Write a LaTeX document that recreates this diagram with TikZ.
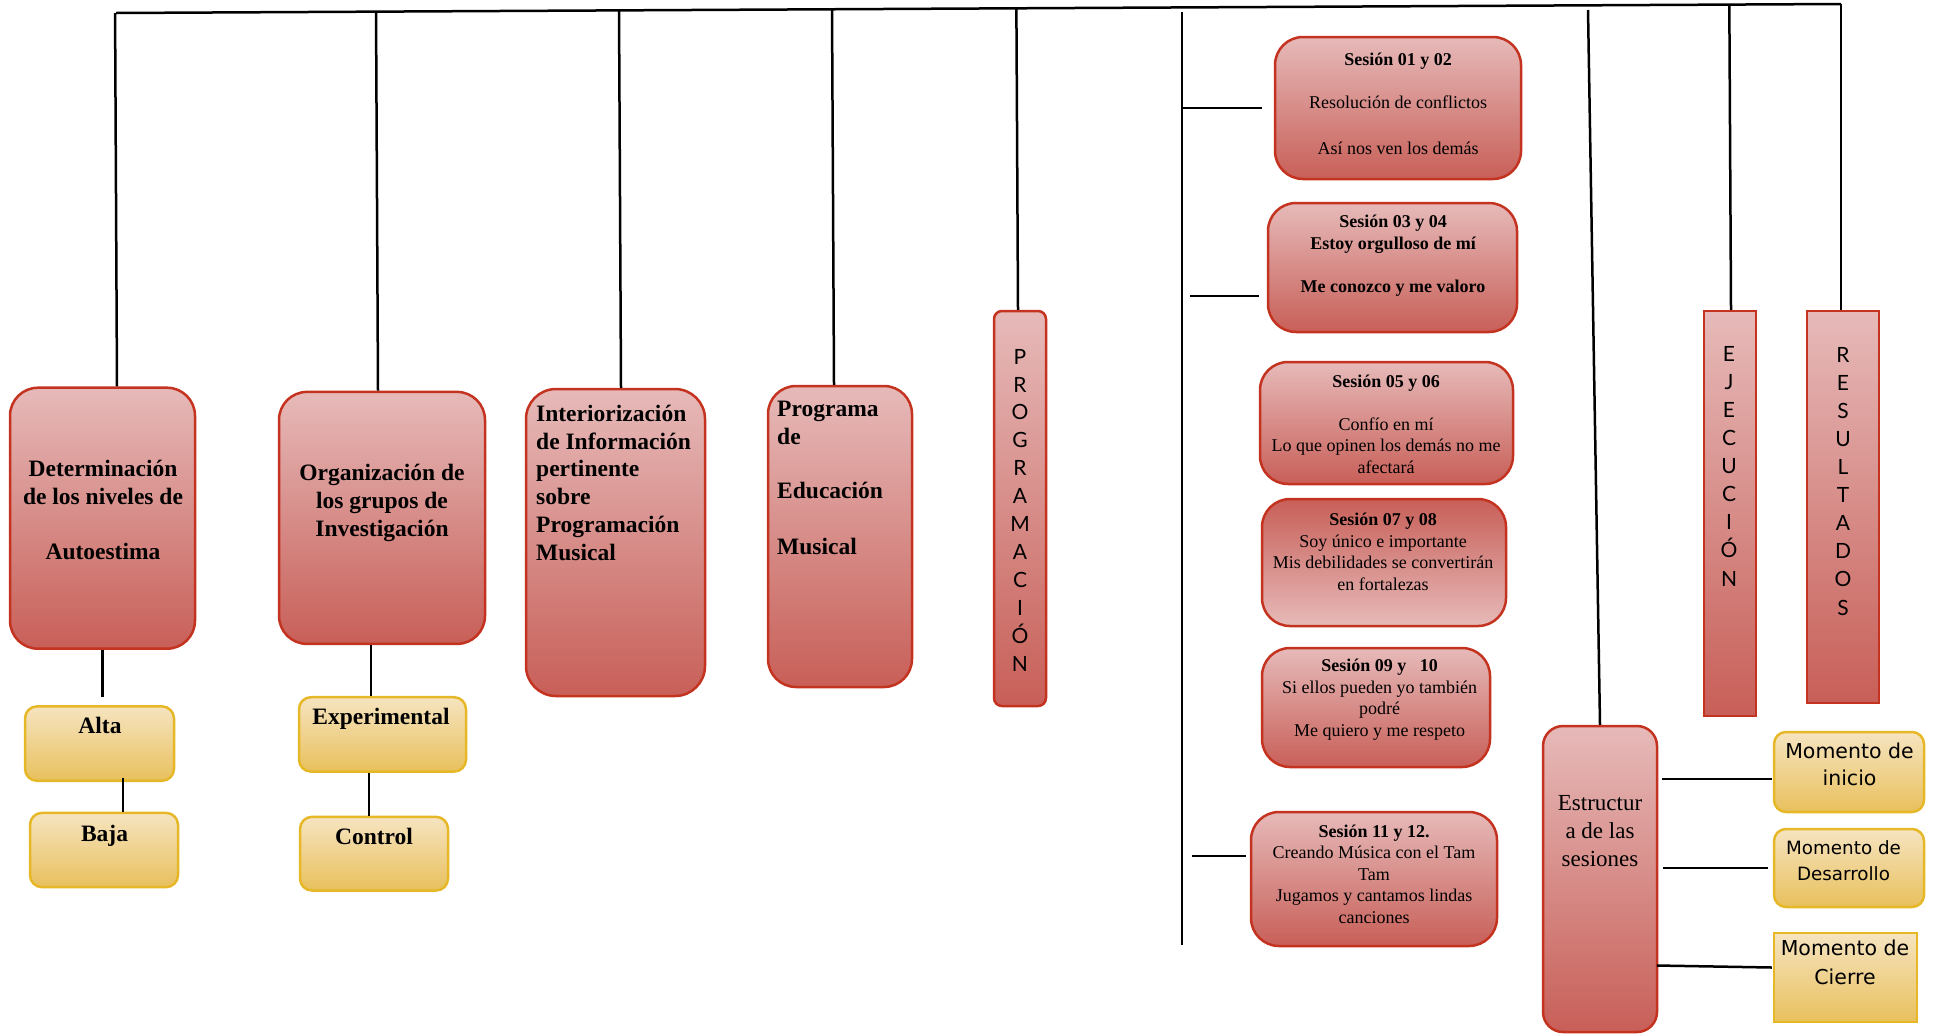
\documentclass[tikz,border=0pt]{standalone}
\usepackage{fontspec}
\setmainfont{Liberation Serif}
\newfontfamily\letterfont{Lato}
\newfontfamily\momfont{DejaVu Sans}
\usetikzlibrary{calc}
\definecolor{redtop}{RGB}{230,186,185}
\definecolor{redbot}{RGB}{200,95,88}
\definecolor{redline}{RGB}{196,50,32}
\definecolor{yeltop}{RGB}{246,228,192}
\definecolor{yelbot}{RGB}{232,192,92}
\definecolor{yelline}{RGB}{230,184,40}

\begin{document}
\begin{tikzpicture}[x=1pt,y=-1pt,
    redbox/.style={draw=redline,line width=2.5pt,rounded corners=28pt,top color=redtop,bottom color=redbot},
    yelbox/.style={draw=yelline,line width=2.5pt,rounded corners=12pt,top color=yeltop,bottom color=yelbot},
    conn/.style={line width=2.5pt,black},
    bigtxt/.style={font=\fontsize{23.5pt}{27.7pt}\selectfont\bfseries,align=center,anchor=base,inner sep=0pt},
    sestxt/.style={font=\fontsize{18pt}{21.5pt}\selectfont,align=center,anchor=base,inner sep=0pt},
    lettxt/.style={font=\letterfont\fontsize{21pt}{27.9pt}\selectfont,align=center,anchor=base,inner sep=0pt},
    momtxt/.style={font=\momfont\fontsize{20.5pt}{27pt}\selectfont,align=center,anchor=base,inner sep=0pt}]
  \useasboundingbox (0,0) rectangle (1937,1034);

  % left branch (text nodes sit on the baseline of their last line)
  \node[redbox,minimum width=185pt,minimum height=261pt] (det) at (102.5,518.2) {};
  \node[bigtxt] (detT) at (103,559.5) {Determinación\\de los niveles de\\[27.7pt]Autoestima};
  \node[redbox,minimum width=206pt,minimum height=252pt] (org) at (382,517.9) {};
  \node[bigtxt] (orgT) at (382,536) {Organización de\\los grupos de\\Investigación};
  \node[redbox,rounded corners=30pt,minimum width=179pt,minimum height=307pt] (inter) at (615.5,542.5) {};
  \node[bigtxt,align=left,anchor=base west] (interT) at (536,560) {Interiorización\\de Información\\pertinente\\sobre\\Programación\\Musical};
  \node[redbox,minimum width=144pt,minimum height=301pt] (prog) at (840,536.5) {};
  \node[bigtxt,align=left,anchor=base west] (progT) at (777,554) {Programa\\de\\[26pt]Educación\\[28pt]Musical};
  \node[redbox,rounded corners=8pt,minimum width=52pt,minimum height=395pt] (progr) at (1020,508.5) {};
  \node[lettxt] (progrT) at (1020,671) {P\\R\\O\\G\\R\\A\\M\\A\\C\\I\\Ó\\N};

  \node[yelbox,minimum width=149pt,minimum height=74.4pt] (alta) at (99.5,743.6) {};
  \node[bigtxt] (altaT) at (100,733.6) {Alta};
  \node[yelbox,minimum width=148pt,minimum height=74.3pt] (baja) at (104,850) {};
  \node[bigtxt] (bajaT) at (104.5,841) {Baja};
  \node[yelbox,minimum width=167pt,minimum height=74.4pt] (exp) at (382.5,734.4) {};
  \node[bigtxt] (expT) at (381,724.5) {Experimental};
  \node[yelbox,minimum width=148pt,minimum height=73.7pt] (ctrl) at (374,853.7) {};
  \node[bigtxt] (ctrlT) at (374,844.5) {Control};

  % sessions
  \node[redbox,minimum width=246pt,minimum height=142pt] (s01) at (1398,108) {};
  \node[sestxt] (s01T) at (1398,154) {\textbf{Sesión 01 y 02}\\[21.5pt]Resolución de conflictos\\[24pt]Así nos ven los demás};
  \node[redbox,minimum width=249pt,minimum height=129pt] (s03) at (1392.5,267.5) {};
  \node[sestxt,font=\fontsize{18pt}{21.5pt}\selectfont\bfseries] (s03T) at (1393,292) {Sesión 03 y 04\\Estoy orgulloso de mí\\[21.5pt]Me conozco y me valoro};
  \node[redbox,minimum width=253pt,minimum height=122pt] (s05) at (1386.5,423) {};
  \node[sestxt] (s05T) at (1386,473) {\textbf{Sesión 05 y 06}\\[21pt]Confío en mí\\Lo que opinen los demás no me\\afectará};
  \node[redbox,top color=redbot,bottom color=redtop,minimum width=244pt,minimum height=127pt] (s07) at (1384,562.5) {};
  \node[sestxt] (s07T) at (1383,590) {\textbf{Sesión 07 y 08}\\Soy único e importante\\Mis debilidades se convertirán\\en fortalezas};
  \node[redbox,minimum width=228pt,minimum height=119pt] (s09) at (1376,707.5) {};
  \node[sestxt] (s09T) at (1379.5,736) {\textbf{Sesión 09 y \ \ 10}\\Si ellos pueden yo también\\podré\\Me quiero y me respeto};
  \node[redbox,minimum width=246pt,minimum height=134pt] (s11) at (1374,879) {};
  \node[sestxt] (s11T) at (1374,923) {\textbf{Sesión 11 y 12.}\\Creando Música con el Tam\\Tam\\Jugamos y cantamos lindas\\canciones};

  % right branch
  \node[redbox,rounded corners=20pt,minimum width=114pt,minimum height=306pt] (estr) at (1600,879) {};
  \node[sestxt,font=\fontsize{23pt}{28pt}\selectfont] (estrT) at (1600,866) {Estructur\\a de las\\sesiones};
  \node[redbox,sharp corners,minimum width=52pt,minimum height=405pt] (ejec) at (1730,513.5) {};
  \node[lettxt,font=\letterfont\fontsize{21pt}{28.1pt}\selectfont] (ejecT) at (1729,586) {E\\J\\E\\C\\U\\C\\I\\Ó\\N};
  \node[redbox,sharp corners,minimum width=72pt,minimum height=392pt] (res) at (1843,507) {};
  \node[lettxt,font=\letterfont\fontsize{21pt}{28.1pt}\selectfont] (resT) at (1843,615) {R\\E\\S\\U\\L\\T\\A\\D\\O\\S};
  \node[yelbox,minimum width=150pt,minimum height=80pt] (momI) at (1849,772) {};
  \node[momtxt] (momIT) at (1849.5,785.5) {Momento de\\inicio};
  \node[yelbox,minimum width=150pt,minimum height=78pt] (momD) at (1849,868) {};
  \node[momtxt,font=\momfont\fontsize{18.3pt}{26pt}\selectfont] (momDT) at (1843.5,880) {Momento de\\Desarrollo};
  \node[yelbox,sharp corners,minimum width=143pt,minimum height=89pt] (momC) at (1845.5,977.5) {};
  \node[momtxt,font=\momfont\fontsize{20.5pt}{29pt}\selectfont] (momCT) at (1845,984.5) {Momento de\\Cierre};

  % connectors
  \coordinate (tl) at (116,13);
  \coordinate (tr) at (1841,4);
  \draw[conn] (tl) -- (tr);
  \draw[conn] ([xshift=14.5pt]det.north) -- ($(tl)!([xshift=14.5pt]det.north)!(tr)$);
  \draw[conn] ([xshift=-4pt]org.north) -- ($(tl)!([xshift=-4pt]org.north)!(tr)$);
  \draw[conn] ([xshift=5.5pt]inter.north) -- ($(tl)!([xshift=5.5pt]inter.north)!(tr)$);
  \draw[conn] ([xshift=-6pt]prog.north) -- ($(tl)!([xshift=-6pt]prog.north)!(tr)$);
  \draw[conn] ([xshift=-2pt]progr.north) -- ($(tl)!([xshift=-2pt]progr.north)!(tr)$);
  \draw[conn] ([xshift=1pt]ejec.north) -- ($(tl)!([xshift=1pt]ejec.north)!(tr)$);
  \draw[conn] ([xshift=-2pt]res.north) -- (tr);
  \coordinate (estrTop) at (1588,10);
  \draw[conn] (estrTop) -- (estr.north);

  \draw[conn] (det.south) -- ([shift={(3,-8)}]alta.north);
  \draw[conn] ([shift={(23.5,-4)}]alta.south) -- ([xshift=19pt]baja.north);
  \draw[conn] ([xshift=-11pt]org.south) -- ([xshift=-11.5pt]exp.north);
  \draw[conn] ([xshift=-13.5pt]exp.south) -- ([xshift=-5pt]ctrl.north);

  \coordinate (spTop) at (1182,12);
  \coordinate (spBot) at (1182,945);
  \draw[conn] (spTop) -- (spBot);
  \draw[conn] (spTop |- s01.west) -- ([xshift=-12pt]s01.west);
  \draw[conn] ([shift={(-77,28.5)}]s03.west) -- ([shift={(-8,28.5)}]s03.west);
  \draw[conn] ([shift={(-58,-23)}]s11.west) -- ([shift={(-4,-23)}]s11.west);

  \draw[conn] ([shift={(-1,7)}]momI.west) -- ++(-110,0);
  \draw[conn] ([xshift=-5pt]momD.west) -- ++(-105,0);
  \draw[conn] ([shift={(-1,-10)}]momC.west) -- ([shift={(-116,-12)}]momC.west);
\end{tikzpicture}
\end{document}
